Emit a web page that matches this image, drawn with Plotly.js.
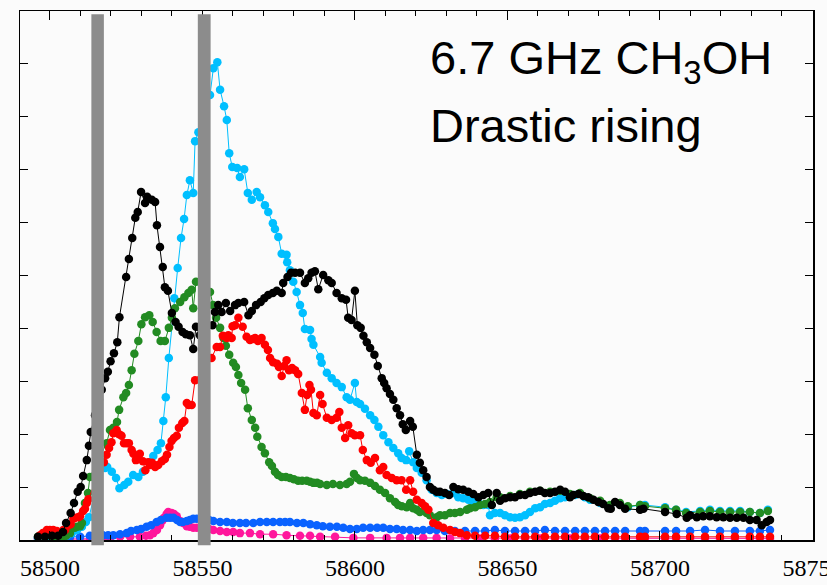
<!DOCTYPE html>
<html>
<head>
<meta charset="utf-8">
<script src="https://cdn.plot.ly/plotly-3.0.1.min.js"></script>
<style>html,body{margin:0;padding:0;background:#fbfbfb;}#chart{width:827px;height:585px;}</style>
</head>
<body>
<div id="chart"></div>
<script>
// Observation dates (MJD) and flux values (arbitrary units; tick spacing = 100)
const blackDates = [58496.1,58498.4,58500.7,58502.7,58504.3,58505.3,58506.8,58507.9,58509.1,58510.1,58510.9,58512.1,58512.8,58513.4,58514.8,58516.1,58517.0,58518.1,58519.0,58519.9,58521.0,58522.1,58522.8,58525.0,58525.9,58527.0,58528.0,58528.8,58529.9,58531.2,58531.9,58533.4,58534.5,58535.1,58536.1,58537.0,58537.7,58538.7,58540.0,58541.2,58542.2,58543.5,58544.6,58545.9,58547.0,58547.9,58549.2,58550.9,58553.3,58554.1,58555.2,58556.3,58557.7,58559.1,58560.7,58561.8,58563.7,58565.1,58566.2,58567.6,58569.1,58570.3,58571.6,58573.1,58574.4,58576.0,58576.5,58577.9,58579.1,58580.4,58582.0,58583.6,58584.7,58585.8,58586.9,58588.0,58589.6,58591.3,58592.4,58594.0,58595.7,58597.1,58597.8,58598.9,58600.0,58600.8,58601.9,58602.8,58603.9,58605.0,58606.4,58607.5,58608.8,58609.6,58610.4,58611.5,58612.6,58613.7,58614.8,58615.7,58616.7,58618.1,58619.0,58620.3,58621.3,58622.4,58623.5,58624.6,58625.7,58626.8,58627.9,58629.5,58630.9,58632.3,58633.9,58635.5,58637.2,58638.8,58640.5,58642.1,58643.7,58644.9,58646.5,58647.6,58649.2,58650.9,58652.5,58654.1,58655.8,58657.4,58659.1,58660.7,58662.3,58664.0,58665.6,58667.3,58668.9,58670.5,58671.6,58673.3,58674.9,58676.5,58678.2,58679.8,58681.4,58683.1,58683.9,58685.3,58686.9,58688.6,58693.5,58694.6,58701.7,58705.5,58708.8,58709.9,58712.1,58714.2,58716.4,58718.6,58720.8,58723.0,58725.2,58727.4,58729.5,58731.7,58733.4,58735.0,58736.1];
const blackFlux = [6,6,8,8,15,32,51,70,91,100,121,151,178,204,236,265,284,306,318,338,353,374,421,497,531,571,609,620,658,637,649,643,639,595,554,516,478,471,429,412,403,393,389,387,361,403,387,397,406,431,444,431,448,433,444,448,450,425,433,444,450,457,463,467,471,467,486,497,505,505,505,486,495,505,508,474,501,491,486,467,457,454,420,416,471,406,401,386,374,363,350,329,306,297,287,276,265,249,236,219,208,225,214,161,146,132,119,100,95,91,91,89,85,100,96,95,91,87,81,85,89,66,89,74,79,81,81,85,85,89,91,93,89,89,91,95,91,81,85,87,83,81,76,72,68,60,59,72,66,59,57,59,53,49,42,47,43,45,45,43,43,42,42,42,38,38,28,34,38];

const cyanDates = [58496.1,58498.4,58500.7,58502.7,58504.3,58505.6,58507.2,58508.9,58510.5,58511.8,58512.8,58517.0,58518.1,58518.8,58520.3,58521.7,58522.8,58524.4,58525.7,58527.3,58529.0,58530.5,58532.5,58533.9,58535.3,58536.4,58537.2,58538.0,58539.0,58540.8,58541.9,58543.0,58544.0,58544.9,58545.9,58547.0,58547.6,58548.7,58550.5,58552.5,58553.6,58554.9,58555.8,58557.1,58558.0,58558.8,58559.8,58561.4,58562.3,58563.7,58564.9,58566.2,58567.8,58568.9,58570.5,58571.6,58573.1,58573.8,58574.9,58576.0,58577.6,58577.8,58578.7,58579.8,58580.9,58582.0,58582.9,58583.6,58585.3,58585.8,58586.4,58588.6,58589.1,58590.8,58592.4,58594.0,58595.7,58597.3,58598.4,58600.0,58600.6,58601.7,58603.3,58605.0,58606.4,58607.7,58609.3,58611.0,58612.6,58614.2,58615.3,58616.8,58617.8,58619.1,58620.3,58621.9,58623.5,58625.2,58626.8,58628.5,58630.2,58632.3,58633.9,58635.5,58637.2,58638.8,58640.5,58642.1,58643.7,58644.3,58645.9,58647.6,58649.2,58650.9,58652.5,58654.1,58655.8,58657.4,58659.1,58660.7,58662.3,58664.0,58665.6,58667.3,58668.9,58670.5,58672.2,58673.8,58675.4,58677.1,58680.4,58683.6,58686.9,58689.5,58693.5,58695.1,58701.7,58705.3,58708.6,58713.2,58716.4,58719.7,58723.0,58726.3,58729.5,58732.8,58735.4];
const cyanFlux = [4,4,4,6,6,9,13,19,25,34,43,140,136,138,129,117,98,104,110,123,119,129,147,159,170,183,225,270,344,457,514,571,607,652,680,656,754,771,813,841,892,903,851,820,794,731,705,703,686,701,656,643,658,648,633,620,599,588,573,541,539,525,510,488,469,444,429,399,397,380,369,346,335,316,306,297,289,270,265,297,261,257,248,236,227,214,198,185,174,164,155,151,168,147,136,127,113,95,89,85,87,89,81,79,76,72,70,66,66,47,51,51,47,43,42,43,47,53,60,62,68,70,74,79,81,83,85,87,81,76,70,64,68,62,66,66,62,57,53,55,57,55,55,55,53,51,57];

const greenDates = [58496.1,58498.4,58500.7,58502.7,58504.3,58505.3,58506.6,58507.2,58508.2,58508.9,58509.9,58510.5,58511.5,58512.5,58513.1,58518.6,58519.7,58520.8,58522.0,58522.7,58524.1,58525.0,58525.9,58526.8,58527.7,58529.0,58530.0,58531.2,58532.6,58533.7,58535.0,58536.3,58537.7,58539.0,58540.0,58541.0,58542.7,58544.1,58545.4,58546.5,58547.0,58547.9,58552.5,58553.5,58554.5,58555.8,58556.9,58557.7,58558.8,58560.1,58561.0,58561.8,58562.7,58564.0,58564.9,58566.2,58567.3,58568.0,58569.4,58570.5,58571.9,58572.8,58573.8,58574.8,58576.0,58577.4,58578.7,58580.0,58581.4,58582.7,58584.2,58585.3,58586.4,58587.6,58588.6,58590.8,58592.8,58595.1,58597.3,58598.4,58599.7,58600.7,58601.7,58603.3,58605.0,58606.6,58608.2,58609.9,58611.5,58613.2,58614.2,58615.4,58617.0,58618.1,58619.1,58620.3,58621.3,58623.5,58624.6,58626.8,58627.9,58629.5,58631.2,58632.8,58634.5,58636.7,58637.7,58639.4,58641.0,58642.7,58644.3,58646.5,58647.6,58650.9,58654.1,58657.4,58660.7,58664.0,58667.3,58670.5,58673.8,58677.1,58680.4,58683.6,58686.9,58689.5,58693.5,58695.1,58701.7,58705.3,58708.6,58713.2,58716.4,58719.7,58723.0,58726.3,58729.5,58732.8,58735.4];
const greenFlux = [6,6,6,6,6,8,13,23,23,25,26,32,70,89,119,183,208,212,223,246,270,278,293,321,352,376,408,421,425,412,393,376,376,401,420,438,450,459,467,473,438,488,469,444,420,401,382,367,350,335,327,312,297,284,249,227,212,195,176,164,147,140,129,123,119,119,117,115,112,112,112,110,108,108,106,104,106,104,106,110,125,117,113,112,108,102,95,89,79,72,66,64,62,70,60,57,53,51,47,43,47,47,51,51,53,57,60,62,66,68,72,81,81,83,87,91,93,91,93,87,89,79,74,66,70,64,66,64,60,57,51,53,55,53,53,53,53,51,55];

const redDates = [58496.8,58497.7,58499.0,58500.0,58501.1,58502.3,58504.4,58505.0,58506.0,58506.8,58507.7,58508.2,58509.3,58509.9,58510.9,58511.5,58512.1,58512.6,58517.7,58518.6,58519.4,58520.2,58520.8,58521.9,58522.7,58523.5,58524.3,58525.2,58525.9,58526.8,58527.4,58528.2,58528.9,58529.5,58530.5,58531.3,58532.3,58532.8,58533.5,58534.5,58535.5,58536.7,58537.7,58538.4,58539.2,58539.9,58540.7,58541.6,58542.3,58543.4,58544.1,58544.9,58545.5,58546.5,58547.6,58553.0,58554.7,58555.8,58556.7,58558.0,58558.5,58559.6,58559.9,58560.7,58561.8,58563.2,58564.5,58565.6,58566.6,58567.3,58568.2,58569.4,58570.5,58571.5,58572.2,58573.2,58574.5,58575.1,58576.0,58576.8,58577.6,58578.4,58579.4,58580.4,58581.4,58582.6,58583.6,58584.3,58585.1,58585.6,58586.4,58587.5,58588.6,58589.4,58590.8,58592.4,58594.0,58594.9,58595.7,58596.8,58597.8,58598.9,58600.0,58601.7,58602.6,58603.9,58605.2,58606.6,58608.2,58609.3,58610.4,58612.1,58613.7,58615.3,58616.8,58618.1,58619.1,58620.3,58621.9,58623.0,58624.1,58625.7,58627.3,58629.0,58631.2,58632.8,58634.5,58636.7,58639.4,58642.7,58645.9,58649.2,58652.5,58655.8,58659.1,58662.3,58665.6,58668.9,58672.2,58675.4,58678.7,58682.0,58685.3,58688.6,58693.5,58695.1,58701.7,58705.3,58709.9,58714.8,58719.7,58724.6,58729.5,58732.8,58736.1];
const redFlux = [9,13,19,19,19,17,19,19,28,30,40,42,43,45,55,59,70,77,147,161,174,185,202,208,200,197,183,183,183,170,163,151,159,163,149,132,147,142,146,138,142,149,153,161,176,187,193,197,212,221,225,259,255,255,302,344,365,365,386,382,387,382,404,406,420,403,384,378,380,382,376,382,369,359,344,336,333,327,310,329,340,321,325,321,314,278,246,274,293,284,240,236,274,257,231,227,231,242,212,193,217,202,198,198,170,151,146,155,132,138,123,117,113,113,95,113,91,76,70,64,57,32,28,23,19,15,13,9,8,8,8,6,6,6,6,6,6,6,6,6,6,6,6,6,6,6,6,6,6,6,6,6,6,6,6];

const blueDates = [58496.1,58498.4,58500.7,58502.7,58504.3,58506.6,58509.9,58513.1,58517.4,58519.1,58520.8,58523.0,58525.2,58526.6,58528.5,58529.9,58531.7,58533.2,58535.0,58536.4,58538.3,58539.4,58540.5,58541.7,58542.7,58543.6,58544.9,58545.9,58547.0,58548.2,58550.5,58552.2,58553.6,58555.8,58558.0,58560.0,58562.3,58564.3,58566.7,58568.9,58571.1,58573.2,58575.4,58577.1,58578.7,58581.0,58583.1,58585.3,58587.5,58589.5,58591.8,58594.1,58596.2,58598.4,58600.6,58602.7,58605.0,58607.3,58609.3,58611.5,58613.7,58615.8,58618.1,58620.3,58622.4,58624.6,58626.8,58629.5,58632.8,58636.1,58639.4,58642.7,58645.9,58649.2,58652.5,58655.8,58659.1,58662.3,58665.6,58668.9,58672.2,58675.4,58678.7,58682.0,58685.3,58688.6,58693.5,58695.1,58701.7,58705.3,58709.9,58714.8,58719.7,58724.6,58729.5,58732.8,58736.1];
const blueFlux = [4,4,4,4,6,6,6,8,9,9,9,11,13,17,19,21,25,28,34,38,42,42,42,38,34,34,36,38,40,40,40,38,36,34,34,32,32,32,32,34,34,34,34,34,34,32,32,30,28,26,25,25,23,21,21,23,23,23,23,21,21,19,19,17,19,19,19,17,17,17,17,17,19,17,17,17,17,19,17,17,17,17,17,17,17,17,17,17,17,17,17,19,17,17,17,17,19];

const pinkDates = [58496.1,58498.4,58500.7,58502.7,58504.3,58506.6,58509.9,58513.1,58517.4,58519.7,58523.0,58526.3,58529.5,58531.5,58532.8,58533.9,58535.1,58536.1,58536.8,58537.4,58538.3,58538.8,58539.9,58540.7,58541.6,58542.7,58543.7,58544.9,58545.9,58547.0,58548.2,58550.5,58552.2,58553.6,58555.8,58558.0,58560.1,58562.3,58565.6,58568.9,58573.2,58577.6,58582.0,58585.3,58588.6,58593.5,58599.5,58605.0,58610.4,58614.8,58618.1,58622.4,58626.8,58631.2,58636.1,58641.0,58645.9,58650.9,58655.8,58660.7,58665.6,58670.5,58675.4,58680.4,58685.3,58688.6,58693.5,58695.1,58701.7,58705.3,58709.9,58714.8,58719.7,58724.6,58729.5,58732.8,58736.1];
const pinkFlux = [2,2,2,2,2,2,2,2,4,4,6,6,6,8,9,13,19,28,36,42,49,53,51,49,45,36,32,26,25,23,23,21,21,19,17,15,15,13,13,11,11,9,8,8,6,6,4,4,4,4,4,4,4,3,3,3,3,3,3,3,3,3,3,3,3,3,3,3,3,3,3,3,3,3,3,3,3];

// Non-detection markers drawn just below zero on the red-series dates
const limitFlux = [-6,-6,-6,-6,-6,-6,-6,-6,-6,-6,-6,-6,-6,-6,-6,-6,-6,-6,-6,-6,-6,-6,-6,-6,-6,-6,-6,-6,-6,-6,-6,-6,-6,-6,-6,-6,-6,-6,-6,-6,-6,-6,-6,-6,-6,-6,-6,-6,-6,-6,-6,-6,-6,-6,-6,-6,-6,-6,-6,-6,-6,-6,-6,-6,-6,-6,-6,-6,-6,-6,-6,-6,-6,-6,-6,-6,-6,-6,-6,-6,-6,-6,-6,-6,-6,-6,-6,-6,-6,-6,-6,-6,-6,-6,-6,-6,-6,-6,-6,-6,-6,-6,-6,-6,-6,-6,-6,-6,-6,-6,-6,-6,-6,-6,-6,-6,-6,-6,-6,-6,-6,-6,-6,-6,-6,-6,-6,-6,-6,-6,-6,-6,-6,-6,-6,-6,-6,-6,-6,-6,-6,-6,-6,-6,-6,-6,-6,-6,-6,-6,-6,-6,-6,-6,-6];

// Shaded epochs (MJD ranges)
const markedEpochs = [[58513.6, 58517.7], [58548.5, 58552.7]];

const xTickStart = 58500, xTickStep = 50, xMinorStep = 10;
const xRange = [58490.2, 58750.2];
const yRange = [0, 1000], yTickStep = 100;

function series(x, y, color, lw) {
  return {x: x, y: y, type: 'scatter', mode: 'lines+markers',
          line: {color: color, width: lw}, marker: {color: color, size: 8.5},
          hoverinfo: 'skip', showlegend: false};
}

const traces = [
  {x: redDates, y: limitFlux, type: 'scatter', mode: 'markers', cliponaxis: false,
   marker: {symbol: 'triangle-down', size: 4, color: '#000'}, showlegend: false, hoverinfo: 'skip'},
  series(pinkDates, pinkFlux, '#ff169c', 1),
  series(blueDates, blueFlux, '#0a62ff', 1),
  series(cyanDates, cyanFlux, '#00bfff', 1),
  series(greenDates, greenFlux, '#228b22', 1),
  series(redDates, redFlux, '#ff0000', 1),
  series(blackDates, blackFlux, '#000000', 1),
  // invisible carrier for the top (mirrored) axis
  {x: xRange, y: yRange, xaxis: 'x2', type: 'scatter', mode: 'markers',
   marker: {opacity: 0}, showlegend: false, hoverinfo: 'skip'}
];

const shapes = markedEpochs.map(e => ({
  type: 'rect', xref: 'x', yref: 'paper', x0: e[0], x1: e[1], y0: -0.01, y1: 0.994,
  fillcolor: '#8c8c8c', line: {width: 0}, layer: 'above'
}));

const serif = '"Liberation Serif", "Times New Roman", Times, "DejaVu Serif", serif';
const sans = '"Liberation Sans", Arial, Helvetica, sans-serif';

const layout = {
  width: 827, height: 585,
  margin: {l: 20, r: 14, t: 11, b: 45},
  paper_bgcolor: '#fbfbfb', plot_bgcolor: 'rgba(0,0,0,0)',
  font: {family: serif, color: '#000'},
  xaxis: {
    range: xRange, tick0: xTickStart, dtick: xTickStep, tickformat: 'd',
    ticks: 'inside', ticklen: 9, tickwidth: 1, tickcolor: '#000',
    showline: true, linecolor: '#000', linewidth: 1.5, mirror: true,
    showgrid: false, zeroline: false, ticklabeloverflow: 'allow', ticklabelstandoff: 6,
    tickfont: {family: serif, size: 24, color: '#000'},
    minor: {dtick: xMinorStep, ticks: 'inside', ticklen: 5, tickcolor: '#000', showgrid: false}
  },
  xaxis2: {
    overlaying: 'x', side: 'top', anchor: 'y',
    range: xRange, tick0: xTickStart, dtick: xTickStep,
    ticks: 'inside', ticklen: 9, tickwidth: 1, tickcolor: '#000',
    showticklabels: false, showline: false, showgrid: false, zeroline: false,
    minor: {dtick: xMinorStep, ticks: 'inside', ticklen: 5, tickcolor: '#000', showgrid: false}
  },
  yaxis: {
    range: yRange, dtick: yTickStep, ticks: 'inside', ticklen: 8, tickwidth: 1, tickcolor: '#000',
    showline: true, linecolor: '#000', linewidth: 1.5, mirror: 'ticks',
    showgrid: false, zeroline: false, showticklabels: false
  },
  shapes: shapes,
  annotations: [
    {text: '6.7 GHz CH<sub>3</sub>OH', xref: 'paper', yref: 'paper', x: 0.5145, y: 0.905,
     xanchor: 'left', yanchor: 'middle', showarrow: false,
     font: {family: sans, size: 47, color: '#000'}},
    {text: 'Drastic rising', xref: 'paper', yref: 'paper', x: 0.5145, y: 0.783,
     xanchor: 'left', yanchor: 'middle', showarrow: false,
     font: {family: sans, size: 47, color: '#000'}}
  ]
};

Plotly.newPlot('chart', traces, layout, {staticPlot: true, displayModeBar: false});
</script>
</body>
</html>
